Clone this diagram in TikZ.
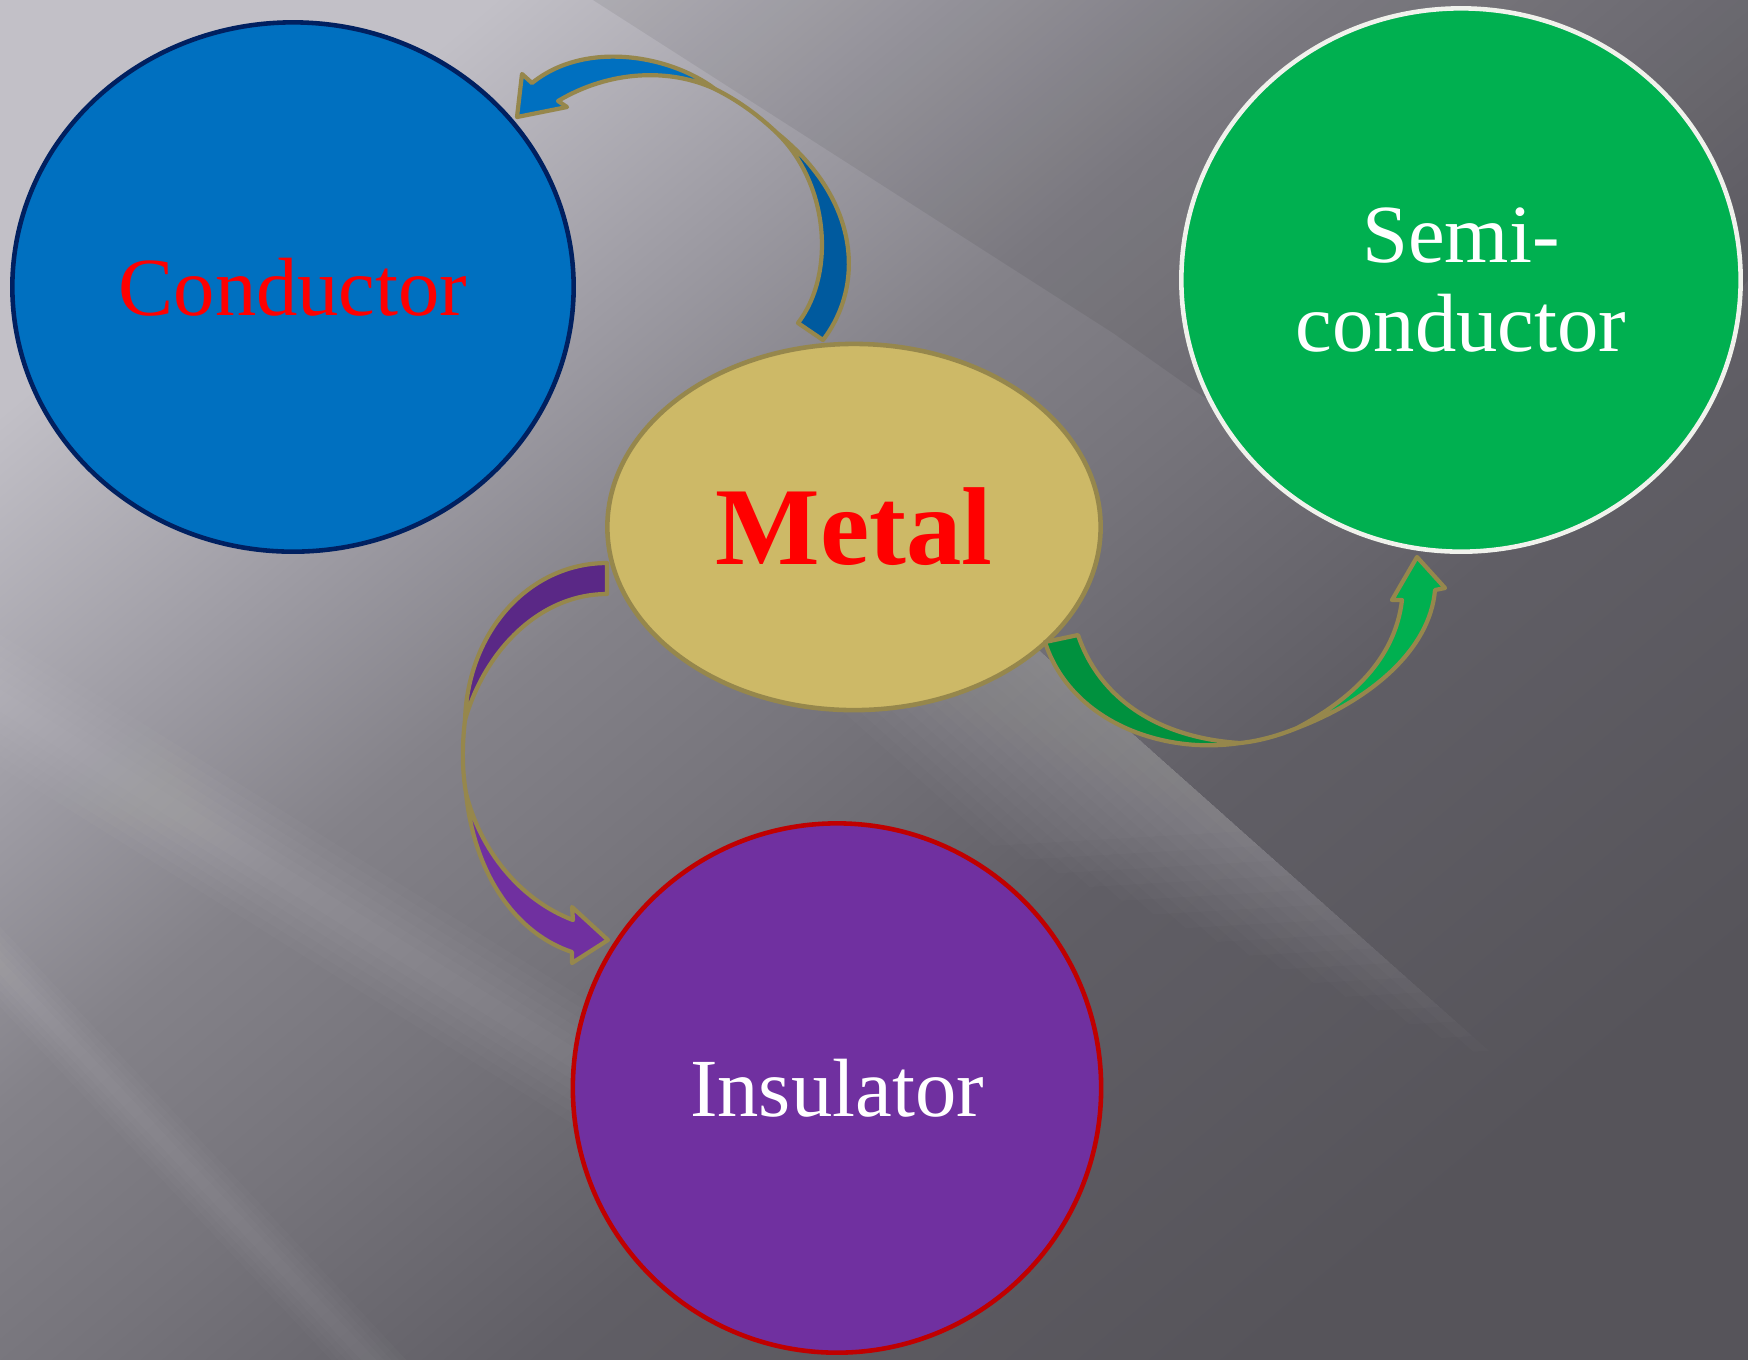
\documentclass[tikz,border=0pt]{standalone}
\usepackage{fontspec}
\setmainfont{Liberation Serif}
\usetikzlibrary{shapes.geometric}
\definecolor{bgA}{RGB}{86,84,90}
\definecolor{bgB}{RGB}{96,94,101}
\definecolor{bgC}{RGB}{118,116,123}
\definecolor{bgD}{RGB}{132,130,137}
\definecolor{bgE}{RGB}{158,156,164}
\definecolor{bgF}{RGB}{194,192,199}
\pgfdeclareverticalshading{backdrop}{100bp}{color(0bp)=(bgA); color(25bp)=(bgA);
  color(40bp)=(bgB); color(50bp)=(bgC); color(57.5bp)=(bgD); color(65bp)=(bgE);
  color(75bp)=(bgF); color(100bp)=(bgF)}
\definecolor{condBlue}{RGB}{0,112,192}
\definecolor{condRim}{RGB}{0,32,96}
\definecolor{metalGold}{RGB}{205,185,103}
\definecolor{rimOlive}{RGB}{150,135,76}
\definecolor{semiGreen}{RGB}{0,176,80}
\definecolor{semiRim}{RGB}{240,242,236}
\definecolor{insPurple}{RGB}{112,48,160}
\definecolor{insRim}{RGB}{192,0,0}
\definecolor{blueShade}{RGB}{0,90,158}
\definecolor{purpleShade}{RGB}{90,40,134}
\definecolor{greenShade}{RGB}{0,145,62}
\newcommand\glint[6]{%
  \foreach \k in {1,...,#6}
    \fill[white, opacity=0.02] (#1,{#2-#5*\k}) -- (#3,{#4-#5*\k})
      -- (#3,{#4+#5*\k}) -- (#1,{#2+#5*\k}) -- cycle;}
\tikzset{
  blob/.style={ellipse, draw, line width=1.3pt, inner sep=0pt, align=center,
    font=\fontsize{23.5}{25.5}\selectfont},
  bandarrow/.style={draw=rimOlive, line width=1.2pt, line join=round}
}
\begin{document}
\begin{tikzpicture}[x=0.01cm, y=-0.01cm]
  \useasboundingbox (0,0) rectangle (1748,1359);
  \shade[shading=backdrop, shading angle=40] (0,0) rectangle (1748,1359);
  \fill[black, opacity=0.07] (593,0) -- (1113,333) -- (1350,500) -- (1600,480)
    -- (1748,280) -- (1748,0) -- cycle;
  \foreach \k in {1,...,16} {
    \pgfmathsetmacro\len{730-22*\k}
    \pgfmathsetmacro\wid{11*\k}
    \fill[white, opacity=0.015] (960,580) -- ({960+0.747*\len},{580+0.665*\len})
      -- ({960+0.747*(\len-\wid)-0.665*\wid},{580+0.665*(\len-\wid)+0.747*\wid})
      -- ({960-0.665*\wid},{580+0.747*\wid}) -- cycle;
  }
  \glint{-100}{638}{650}{1106}{11}{6}
  \glint{-100}{860}{500}{1500}{8}{5}

  \node[blob, fill=condBlue, draw=condRim, minimum width=5.61cm, minimum height=5.29cm,
    text=red] (cond) at (293,287) {Conductor};
  \node[blob, fill=metalGold, draw=rimOlive, minimum width=4.93cm, minimum height=3.66cm,
    text=red, font=\fontsize{31.5}{36}\selectfont\bfseries] (metal) at (854,527) {Metal};
  \node[blob, fill=semiGreen, draw=semiRim, minimum width=5.59cm, minimum height=5.43cm,
    text=white] (semi) at (1461,280) {Semi-\\conductor};
  \node[blob, fill=insPurple, draw=insRim, minimum width=5.28cm, minimum height=5.29cm,
    text=white] (insul) at (837,1088) {Insulator};

  \filldraw[bandarrow, fill=blueShade] (798,323) -- (823,340)
    .. controls (865,285) and (860,200) .. (777,133)
    .. controls (830,185) and (835,275) .. (798,323) -- cycle;
  \draw[bandarrow] (777,133) .. controls (757,114) and (737,100) .. (715,89);
  \filldraw[bandarrow, fill=condBlue] (715,89) .. controls (670,55) and (585,40) .. (532,83)
    -- (522,74) -- (517,117) -- (567,107) -- (558,101)
    .. controls (610,70) and (670,68) .. (715,89) -- cycle;

  \filldraw[bandarrow, fill=purpleShade] (607,563) .. controls (530,563) and (468,630) .. (465,720)
    .. controls (485,650) and (540,594) .. (607,594) -- cycle;
  \draw[bandarrow] (465,720) .. controls (462,745) and (462,770) .. (466,793);
  \filldraw[bandarrow, fill=insPurple] (466,793) .. controls (475,880) and (520,935) .. (572,952)
    -- (572,963) -- (608,940) -- (572,907) -- (573,920)
    .. controls (520,900) and (480,850) .. (466,793) -- cycle;

  \filldraw[bandarrow, fill=greenShade] (1045,642) .. controls (1070,720) and (1160,755) .. (1240,743)
    .. controls (1160,738) and (1100,700) .. (1078,635) -- cycle;
  \draw[bandarrow] (1240,743) .. controls (1260,741) and (1280,735) .. (1297,728);
  \filldraw[bandarrow, fill=semiGreen] (1297,728) .. controls (1370,700) and (1430,650) .. (1435,590)
    -- (1445,588) -- (1417,557) -- (1392,600) -- (1402,600)
    .. controls (1395,660) and (1350,700) .. (1297,728) -- cycle;
\end{tikzpicture}
\end{document}
